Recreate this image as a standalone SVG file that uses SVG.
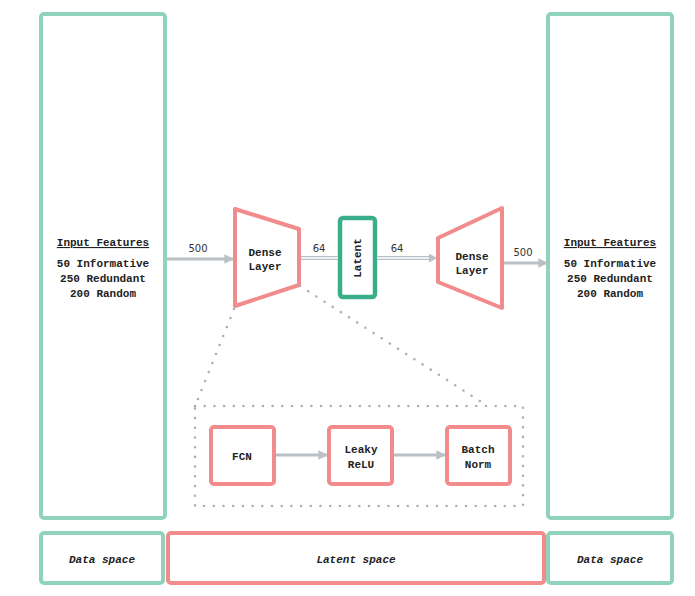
<svg xmlns="http://www.w3.org/2000/svg" width="695" height="596" viewBox="0 0 695 596">
<defs>
<style>
.data{fill:#fff;stroke:#8fd3bc;stroke-width:4}
.red{fill:#fff;stroke:#f28b8b;stroke-width:4;stroke-linejoin:round}
.lat{fill:#fff;stroke:#3aae8a;stroke-width:4.5}
.t{font-family:"Liberation Mono","DejaVu Sans Mono",monospace;font-size:11px;font-weight:bold;fill:#222;text-anchor:middle}
.it{font-family:"Liberation Mono","DejaVu Sans Mono",monospace;font-size:11px;font-style:italic;font-weight:bold;fill:#222;text-anchor:middle}
.n{font-family:"DejaVu Sans","Liberation Sans",sans-serif;font-size:10px;fill:#333;text-anchor:middle}
.arr{stroke:#b9c0c6;stroke-width:3;fill:none}
.dot{stroke:#a9b0b7;stroke-width:2.6;stroke-linecap:round;stroke-dasharray:0 9.7;fill:none}
</style>
<marker id="ah" viewBox="0 0 10 10" refX="9" refY="5" markerWidth="3.2" markerHeight="3.2" orient="auto" markerUnits="strokeWidth">
<path d="M0,0 L10,5 L0,10 z" fill="#b9c0c6"/>
</marker>
</defs>

<g id="data-in">
<rect class="data" x="41" y="14" width="124" height="504" rx="3"/>
<text class="t" x="103" y="246" text-decoration="underline">Input Features</text>
<text class="t" x="103" y="267">50 Informative</text>
<text class="t" x="103" y="282">250 Redundant</text>
<text class="t" x="103" y="297">200 Random</text>
</g>

<g id="data-out">
<rect class="data" x="548" y="14" width="124" height="504" rx="3"/>
<text class="t" x="610" y="246" text-decoration="underline">Input Features</text>
<text class="t" x="610" y="267">50 Informative</text>
<text class="t" x="610" y="282">250 Redundant</text>
<text class="t" x="610" y="297">200 Random</text>
</g>

<g id="dense1">
<polygon class="red" points="235,209 299,229 299,285 235,306"/>
<text class="t" x="265" y="256">Dense</text>
<text class="t" x="265" y="270">Layer</text>
</g>

<g id="latent">
<rect class="lat" x="340" y="218" width="35" height="79" rx="3"/>
<text class="t" transform="translate(361,258) rotate(-90)">Latent</text>
</g>

<g id="dense2">
<polygon class="red" points="438,238 502,208 502,308 438,282"/>
<text class="t" x="472" y="260">Dense</text>
<text class="t" x="472" y="274">Layer</text>
</g>

<g id="detail">
<rect class="dot" x="195" y="406" width="328" height="100"/>
<g id="fcn">
<rect class="red" x="211" y="427" width="63" height="57" rx="3"/>
<text class="t" x="242" y="460">FCN</text>
</g>
<g id="leaky">
<rect class="red" x="329" y="427" width="63" height="57" rx="3"/>
<text class="t" x="361" y="453">Leaky</text>
<text class="t" x="361" y="468">ReLU</text>
</g>
<g id="batch">
<rect class="red" x="447" y="427" width="63" height="57" rx="3"/>
<text class="t" x="478" y="453">Batch</text>
<text class="t" x="478" y="468">Norm</text>
</g>
</g>

<g id="connectors">
<line class="arr" x1="167" y1="259" x2="233" y2="259" marker-end="url(#ah)"/>
<text class="n" x="198" y="252">500</text>
<line x1="301" y1="258" x2="338" y2="258" stroke="#b9c0c6" stroke-width="4"/>
<line x1="301" y1="258" x2="338" y2="258" stroke="#fff" stroke-width="1.4"/>
<text class="n" x="319" y="252">64</text>
<line x1="377" y1="258" x2="430" y2="258" stroke="#b9c0c6" stroke-width="4"/>
<line x1="377" y1="258" x2="430" y2="258" stroke="#fff" stroke-width="1.4"/>
<path d="M429,253.5 L437,258 L429,262.5 z" fill="#b9c0c6"/>
<text class="n" x="397" y="252">64</text>
<line class="arr" x1="504" y1="263" x2="547" y2="263" marker-end="url(#ah)"/>
<text class="n" x="523" y="256">500</text>
<line class="arr" x1="276" y1="455" x2="327" y2="455" marker-end="url(#ah)"/>
<line class="arr" x1="394" y1="455" x2="445" y2="455" marker-end="url(#ah)"/>
<line class="dot" x1="234" y1="309" x2="196" y2="404"/>
<line class="dot" x1="300" y1="286" x2="486" y2="405"/>
</g>

<g id="space-data-left">
<rect class="data" x="41" y="533" width="122" height="50" rx="3"/>
<text class="it" x="102" y="563">Data space</text>
</g>
<g id="space-latent">
<rect class="red" x="168" y="533" width="376" height="50" rx="3"/>
<text class="it" x="356" y="563">Latent space</text>
</g>
<g id="space-data-right">
<rect class="data" x="548" y="533" width="124" height="50" rx="3"/>
<text class="it" x="610" y="563">Data space</text>
</g>
</svg>
